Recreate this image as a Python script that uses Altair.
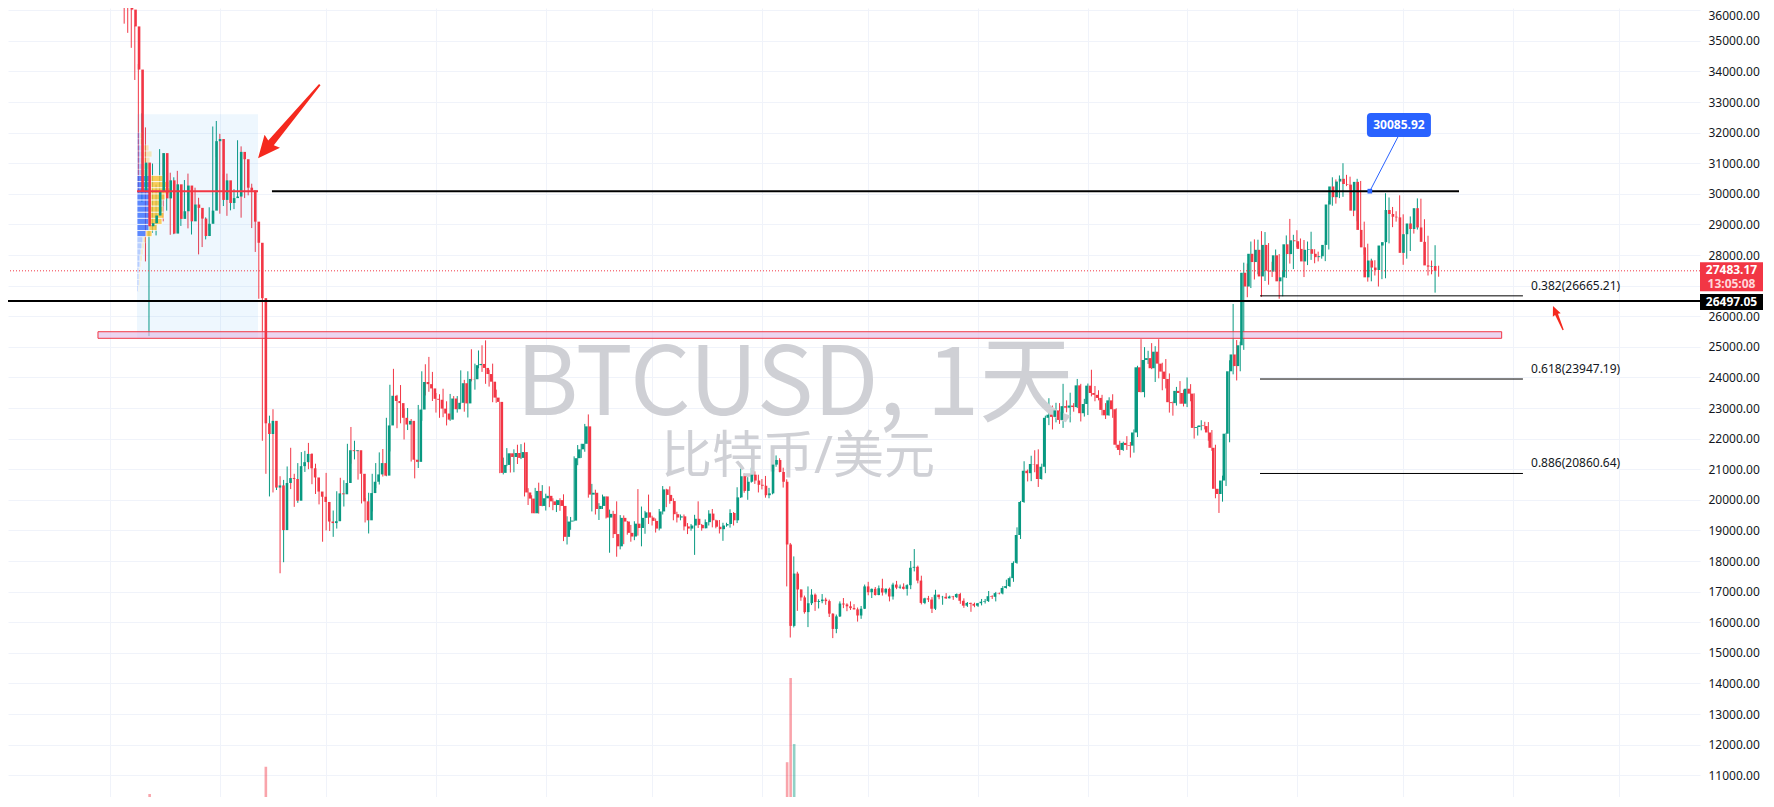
import altair as alt
import pandas as pd

# ---------------- daily BTCUSD candles ----------------
FIRST_DAY = "2022-05-05"
FIRST_OPEN = 39690
# (high, low, close) per day; open = previous close
m2022_05 = [(39850,35560,36550),(36680,35260,36020),(36140,34770,35470),(35500,33720,34060),(34240,30030,30080),
            (32630,29730,31020),(32170,27790,28940),(30060,25350,29040),(30990,28720,29290),(30300,28640,30090),
            (31460,29480,31330),(31330,29100,29850),(30780,29450,30440),(30690,28660,28700),(30540,28680,30310),
            (30750,28730,29180),(29620,28950,29430),(30450,29270,30270),(30660,28870,29100),(29810,28670,29650),
            (30200,29320,29540),(29870,28020,29190),(29380,28260,28620),(29230,28510,29020),(29560,28800,29450),
            (32200,29300,31720),(32380,31200,31790)]
m2022_06 = [(31960,29350,29800),(30650,29600,30440),(30660,29280,29700),(29930,29460,29860),(30150,29500,29910),
            (31750,29880,31370),(31550,29220,31130),(31300,29860,30200),(30660,29950,30110),(30330,28880,29090),
            (29440,28100,28400),(28540,26570,26590),(26880,21930,22500),(23000,20850,22150),(22750,20110,22580),
            (22960,20240,20400),(21350,20320,20470),(20770,17600,19010),(20650,17960,20550),(21090,19650,20710),
            (21700,20350,20680),(20850,19770,19970),(21200,19900,21100),(21560,20740,21230),(21600,20910,21500),
            (21860,21000,21030),(21520,20510,20730),(21180,20190,20270),(20420,19850,20100),(20150,18630,19930)]
m2022_07 = [(20880,19000,19290),(19390,18980,19240),(19650,18790,19300),(20280,19060,20210),(20720,19320,20180),
            (20640,19780,20550),(21830,20250,21620),(22380,21180,21590),(21930,21320,21620),(21600,20660,20850),
            (20860,19880,19950),(20060,19260,19330),(20230,18900,20220),(20850,19620,20590),(21200,20380,20830),
            (21550,20500,21200),(21660,20760,20790),(22680,20770,22430),(23760,21580,23400),(24280,22920,23230),
            (23430,22340,23160),(23750,22500,22680),(22990,21970,22460),(23000,22280,22580),(22640,21250,21310),
            (21340,20700,21240),(23100,21040,22950),(24200,22580,23850),(24430,23410,23780),(24670,23530,23640),
            (24180,23230,23300)]
m2022_08 = [(23490,22850,23270),(23450,22680,22980),(23630,22700,22820),(23220,22430,22620),(23460,22580,23310),
            (23390,22960,22960),(23390,22850,23170),(24230,23150,23810),(23920,22880,23150),(24200,22690,23950),
            (24920,23870,23940),(24450,23600,24400),(24880,24300,24440),(25050,24180,24310),(25210,23790,24110),
            (24250,23700,23860),(24450,23190,23340),(23600,23170,23200),(23200,20870,20880),(21380,20830,21140),
            (21690,21100,21520),(21520,20890,21400),(21650,20900,21530),(21800,21170,21370),(21820,21330,21560),
            (21870,20110,20240),(20380,19830,20040),(20150,19560,19560),(20390,19600,20290),(20560,19550,19800),
            (20480,19790,20050)]
m2022_09 = [(20200,19650,20130),(20440,19760,19950),(20050,19660,19830),(20000,19600,19990),(20050,19640,19800),
            (20180,18650,18790),(19460,18540,19290),(19440,19020,19320),(21420,19300,21360),(21790,21130,21650),
            (21830,21370,21830),(22480,21570,22400),(22790,20070,20170),(20520,19620,20230),(20330,19520,19700),
            (19890,19340,19800),(20170,19700,20110),(20110,19390,19420),(19680,18270,19540),(19640,18750,18880),
            (19950,18140,18480),(19500,18380,19410),(19490,18550,19290),(19310,18860,18920),(19180,18630,18800),
            (19300,18680,19220),(20350,18830,19080),(19780,18480,19410),(19640,18890,19590),(20170,19210,19420)]
m2022_10 = [(19480,19160,19310),(19390,18930,19060),(19700,19000,19620),(20450,19520,20340),(20360,19760,20160),
            (20440,19870,19960),(20050,19330,19530),(19610,19260,19420),(19520,19330,19460),(19520,19000,19130),
            (19240,18880,19060),(19210,18990,19160),(19510,18200,19380),(19950,19080,19180),(19210,18990,19070),
            (19360,19070,19270),(19660,19160,19550),(19700,19100,19330),(19350,19070,19120),(19340,18900,19040),
            (19250,18660,19160),(19250,19120,19210),(19690,19090,19570),(19600,19160,19330),(20410,19240,20080),
            (21020,20060,20770),(20860,20230,20290),(20740,20000,20590),(21050,20560,20820),(20930,20520,20630),
            (20820,20240,20490)]
m2022_11 = [(20680,20340,20460),(20780,20070,20150),(20390,20050,20210),(21300,20180,21150),(21450,21080,21300),
            (21360,20900,20910),(21050,20400,20590),(20670,17170,18540),(18590,15500,15880),(18150,15830,17590),
            (17650,16370,17070),(17070,16700,16810),(16870,16280,16330),(17170,15840,16620),(17080,16560,16900),
            (16940,16370,16660),(16750,16450,16690),(16920,16620,16740),(16800,16570,16690),(16740,16170,16280),
            (16290,15480,15780),(16250,15640,16190),(16680,16170,16610),(16790,16460,16580),(16620,16360,16520),
            (16680,16400,16460),(16590,16420,16420),(16480,16020,16220),(16530,16110,16440),(17230,16430,17170)]
m2022_12 = [(17320,16880,16980),(17100,16790,17090),(17150,16870,16890),(17200,16880,17110),(17420,16870,16970),
            (17110,16910,17090),(17130,16680,16840),(17290,16740,17230),(17350,17080,17130),(17230,17090,17160),
            (17270,17070,17090),(17240,16870,17210),(18000,17080,17780),(18390,17660,17810),(17850,17270,17360),
            (17520,16580,16630),(16800,16590,16780),(16860,16660,16740),(16820,16300,16440),(17060,16400,16900),
            (16900,16750,16820),(16860,16570,16830),(16950,16760,16780),(16870,16780,16840),(16860,16730,16820),
            (16940,16790,16920),(16960,16600,16700),(16780,16470,16540),(16660,16500,16630),(16640,16340,16600),
            (16640,16490,16540)]
m2023_01 = [(16630,16500,16620),(16760,16550,16670),(16760,16610,16690),(17020,16660,16850),(16880,16760,16830),
            (16990,16680,16950),(16970,16910,16940),(17180,16910,17120),(17390,17100,17180),(17490,17150,17440),
            (17990,17320,17940),(19100,17910,18850),(19960,18720,19930),(21260,19900,20950),(20990,20600,20870),
            (21440,20610,21170),(21620,20900,21160),(21650,20420,20680),(21180,20660,21080),(22750,20870,22680),
            (23320,22440,22780),(23080,22300,22710),(23170,22530,22920),(23160,22480,22610),(23790,22350,23060),
            (23250,22860,23010),(23500,22530,23080),(23160,22880,23030),(23950,23000,23740),(23790,22560,22830),
            (23300,22720,23130)]
m2023_02 = [(23800,22770,23730),(24250,23380,23490),(23720,23220,23430),(23580,23250,23330),(23430,22760,22940),
            (23160,22640,22760),(23350,22750,23250),(23450,22680,22960),(22990,21700,21800),(21930,21460,21630),
            (21900,21600,21860),(22080,21630,21790),(21890,21380,21770),(22300,21540,22200),(24380,22050,24330),
            (25250,23510,23520),(24990,23350,24570),(24870,24440,24630),(25120,24270,24300),(25020,23850,24840),
            (25250,23970,24450),(24480,23580,24190),(24600,23640,23950),(24130,22850,23190),(23210,22750,23160),
            (23690,23080,23560),(23880,23140,23490),(23600,23050,23140)]
m2023_03 = [(24000,23030,23630),(23780,23220,23470),(23480,22000,22350),(22420,22100,22380),(22600,22270,22430),
            (22550,22300,22410),(22540,21930,22200),(22280,21600,21700),(21800,20050,20360),(20360,19570,20190),
            (20790,19940,20630),(22190,20450,22160),(24560,21880,24200),(26400,24100,24750),(25220,23900,24370),
            (25170,24200,25050),(27750,24900,27420),(27720,26620,26970),(28440,26920,28040),(28510,27200,27770),
            (28500,27370,28170),(28780,26630,27300),(28750,27150,28330),(28390,27030,27490),(27780,27280,27460),
            (28180,27450,27990),(28030,26570,27140),(27500,26650,27270),(28640,27250,28350),(29180,27720,28030),
            (28660,27540,28480)]
m2023_04 = [(28810,28250,28450),(28540,27870,28200),(28490,27280,27790),(28440,27670,28170),(28760,27840,28190),
            (28190,27730,28040),(28110,27790,27930),(28170,27880,27960),(28470,27800,28330),(29770,28180,29650),
            (30540,29610,30240),(30470,29680,29890),(30600,29860,30400),(31000,29900,30490),(30620,30250,30320),
            (30560,30140,30300),(30330,29270,29450),(30490,29100,30390),(30420,28600,28820),(29090,28010,28250),
            (28370,27130,27270),(27880,27140,27820),(27830,27330,27590),(28000,26970,27510),(28400,27210,28310),
            (30020,27240,28420),(29880,28380,29470),(29570,28910,29340),(29430,29090,29250),(29950,29110,29230)]
m2023_05 = [(29330,27680,28070),(28890,27880,28680),(29260,28130,29030),(29370,28700,28850),(29850,28830,29530),
            (29840,28820,28900),(29170,28380,28430),(28630,27330,27660),(27820,27370,27620),(28320,26770,27640),
            (27650,27290,27483.17)]
months = [m2022_05, m2022_06, m2022_07, m2022_08, m2022_09, m2022_10, m2022_11, m2022_12,
          m2023_01, m2023_02, m2023_03, m2023_04, m2023_05]

# volume spikes that reach into the visible area (thousand BTC)
vol_day = ["2022-05-11", "2022-06-13", "2022-11-08", "2022-11-09", "2022-11-10"]
vol_k = [22.0, 27.4, 28.3, 45.0, 31.9]

# fixed-range volume profile (May 8 - Jun 11 2022): 200 $ buckets
vp_bucket = list(range(26800, 32000, 200))
vp_up = [1.5, 2, 2, 2, 3, 3, 4, 5, 6, 9, 12, 12, 13, 13, 14, 14, 14, 14, 14, 5, 5, 4, 4, 4, 3, 3]
vp_dn = [1, 1, 1, 1, 1, 2, 2, 2, 3, 6, 8, 13, 14, 13, 11, 14, 19, 18, 12, 6, 7, 9, 11, 8, 4, 2]
vp_value_area = (28600, 30400)
vp_poc = 30085.92

# drawings
LEVEL_TOP = 30085.92
LEVEL_SUPPORT = 26497.05
LAST_PRICE = 27483.17
COUNTDOWN = "13:05:08"
fib_ratio = ["0.382", "0.618", "0.886"]
fib_price = [26665.21, 23947.19, 20860.64]
zone_lo, zone_hi = 25278, 25493
range_top = 32598

GREEN = "#089981"
RED = "#f23645"
FONT = '"Noto Sans", "Noto Sans CJK SC", sans-serif'
WM_FONT = '"Noto Sans CJK SC", sans-serif'

W, H = 1692, 789
Y_LO, Y_HI = 10288, 36072


def ms(s):
    return int(pd.Timestamp(s, tz="UTC").value // 10**6)


# ---------------- tables ----------------
rows = [r for m in months for r in m]
dates = pd.date_range(FIRST_DAY, periods=len(rows), freq="D", tz="UTC")
o_, h_, l_, c_ = [], [], [], []
prev = FIRST_OPEN
for (hh, ll, cc) in rows:
    o_.append(prev)
    c_.append(cc)
    h_.append(max(hh, prev, cc))
    l_.append(min(ll, prev, cc))
    prev = cc
candles = pd.DataFrame({"t": dates.asi8 // 10**6, "o": o_, "h": h_, "l": l_, "c": c_})
candles["dir"] = ["up" if c >= o else "down" for o, c in zip(o_, c_)]
dir_by_day = dict(zip(dates.strftime("%Y-%m-%d"), candles["dir"]))

vol = pd.DataFrame({"t": [ms(d) for d in vol_day], "v": vol_k,
                    "dir": [dir_by_day[d] for d in vol_day]})

vp_rows = []
for b, u, d in zip(vp_bucket, vp_up, vp_dn):
    strong = vp_value_area[0] <= b <= vp_value_area[1]
    vp_rows.append({"lo": b, "hi": b + 200, "x0": 0, "x1": u, "fill": "#2962ff",
                    "op": 0.75 if strong else 0.28})
    vp_rows.append({"lo": b, "hi": b + 200, "x0": u, "x1": u + d, "fill": "#fbc02d",
                    "op": 0.78 if strong else 0.32})
vp = pd.DataFrame(vp_rows)

XS = alt.Scale(type="utc", domain=[ms("2022-04-02T05:00"), ms("2023-07-23T18:30")], nice=False)
YS = alt.Scale(domain=[Y_LO, Y_HI], nice=False, zero=False)


def X(f):
    return alt.X(f, type="temporal", scale=XS, axis=None)


def Y(f):
    return alt.Y(f, type="quantitative", scale=YS, axis=None)


month_starts = [int(v // 10**6) for v in pd.date_range("2022-04-01", "2023-07-01", freq="MS", tz="UTC").asi8]
col = alt.Color("dir:N", scale=alt.Scale(domain=["up", "down"], range=[GREEN, RED]), legend=None)

# ---------------- layers ----------------
watermark1 = alt.Chart(pd.DataFrame({"s": ["BTCUSD, 1天"]})).mark_text(
    font=WM_FONT, fontSize=95, color="#cfd0d5", align="center", baseline="alphabetic"
).encode(x=alt.value(787), y=alt.value(407), text="s:N")
watermark2 = alt.Chart(pd.DataFrame({"s": ["比特币/美元"]})).mark_text(
    font=FONT, fontSize=51, color="#cfd0d5", align="center", baseline="alphabetic"
).encode(x=alt.value(790), y=alt.value(465), text="s:N")

range_box = alt.Chart(pd.DataFrame({"a": [ms("2022-05-08T15:00")], "b": [ms("2022-06-11T18:30")],
                                    "lo": [zone_lo], "hi": [range_top]})).mark_rect(
    color="#2196f3", opacity=0.08).encode(x=X("a"), x2="b", y=Y("lo"), y2="hi")

zone = alt.Chart(pd.DataFrame({"a": [ms("2022-04-27T14:30")], "b": [ms("2023-05-28T19:00")],
                               "lo": [zone_lo], "hi": [zone_hi]})).mark_rect(
    fill="#e1bee7", fillOpacity=0.65, stroke="#f23645", strokeWidth=1).encode(
    x=X("a"), x2="b", y=Y("lo"), y2="hi")

volume = alt.Chart(vol).mark_bar(size=2.6, opacity=0.45, clip=True).encode(
    x=X("t"),
    y=alt.Y("v:Q", scale=alt.Scale(domain=[21.4, 177.9], nice=False, zero=False), axis=None),
    y2=alt.datum(0),
    color=col)

profile = alt.Chart(vp).mark_rect(stroke="white", strokeWidth=0.8).encode(
    x=alt.X("x0:Q", scale=alt.Scale(domain=[-129, W - 129], nice=False, zero=False), axis=None),
    x2="x1",
    y=Y("lo"), y2="hi",
    fill=alt.Fill("fill:N", scale=None),
    opacity=alt.Opacity("op:Q", scale=None))

wicks = alt.Chart(candles).mark_rule(strokeWidth=1, clip=True).encode(
    x=alt.X("t:T", scale=XS,
            axis=alt.Axis(values=month_starts, labels=False, ticks=False, domain=False,
                          grid=True, gridColor="#f0f3fa", gridWidth=1, title=None)),
    y=alt.Y("l:Q", scale=YS,
            axis=alt.Axis(orient="right", values=list(range(11000, 37000, 1000)), format=".2f",
                          labelFont=FONT, labelFontSize=12, labelColor="#131722",
                          ticks=False, domain=False, grid=True, gridColor="#f0f3fa",
                          labelPadding=8, labelFlush=5, title=None)),
    y2="h",
    color=col)

bodies = alt.Chart(candles).mark_bar(size=2.6, clip=True).encode(
    x=X("t"), y=Y("o"), y2="c", color=col)

last_line = alt.Chart(pd.DataFrame({"p": [LAST_PRICE]})).mark_rule(
    color=RED, strokeWidth=1, strokeDash=[1, 2]).encode(y=Y("p"))
support_line = alt.Chart(pd.DataFrame({"p": [LEVEL_SUPPORT]})).mark_rule(
    color="#000000", strokeWidth=2).encode(y=Y("p"))
top_line = alt.Chart(pd.DataFrame({"a": [ms("2022-06-15T17:00")], "b": [ms("2023-05-16T18:00")],
                                   "p": [LEVEL_TOP]})).mark_rule(
    color="#000000", strokeWidth=2).encode(x=X("a"), x2="b", y=Y("p"))
poc_line = alt.Chart(pd.DataFrame({"a": [ms("2022-05-08T15:00")], "b": [ms("2022-06-11T18:30")],
                                   "p": [vp_poc]})).mark_rule(
    color="#f23645", strokeWidth=2).encode(x=X("a"), x2="b", y=Y("p"))

fib = pd.DataFrame({"a": ms("2023-03-21T14:00"), "b": ms("2023-06-03T19:00"),
                    "tl": ms("2023-06-06T02:00"), "p": fib_price,
                    "label": [f"{r}({p:.2f})" for r, p in zip(fib_ratio, fib_price)]})
fib_lines = alt.Chart(fib).mark_rule(color="#000000", strokeWidth=1).encode(
    x=X("a"), x2="b", y=Y("p"))
fib_text = alt.Chart(fib).mark_text(font=FONT, fontSize=12, color="#131722", align="left",
                                    baseline="bottom", dy=-3).encode(
    x=X("tl"), y=Y("p"), text="label:N")

# callout 30085.92
ROUND = ("M-0.875,-0.375L0.875,-0.375Q1,-0.375 1,-0.25L1,0.25Q1,0.375 0.875,0.375"
         "L-0.875,0.375Q-1,0.375 -1,0.25L-1,-0.25Q-1,-0.375 -0.875,-0.375Z")
leader = alt.Chart(pd.DataFrame({"a": [ms("2023-04-29T12:00")], "pa": [31856],
                                 "b": [ms("2023-04-21T14:00")], "pb": [LEVEL_TOP]})).mark_rule(
    color="#2962ff", strokeWidth=1).encode(x=X("a"), x2="b", y=Y("pa"), y2="pb")
leader_dot = alt.Chart(pd.DataFrame({"b": [ms("2023-04-21T14:00")], "pb": [LEVEL_TOP]})).mark_point(
    shape="square", filled=True, size=22, color="#2962ff", opacity=1).encode(x=X("b"), y=Y("pb"))
callout_df = pd.DataFrame({"t": [ms("2023-04-29T19:00")], "p": [32248],
                           "s": [f"{LEVEL_TOP:.2f}"]})
callout_box = alt.Chart(callout_df).mark_point(
    shape=ROUND, filled=True, size=4096, color="#2962ff", opacity=1).encode(x=X("t"), y=Y("p"))
callout_txt = alt.Chart(callout_df).mark_text(
    font=FONT, fontSize=12, fontWeight="bold", color="white", baseline="middle").encode(
    x=X("t"), y=Y("p"), text="s:N")

# arrows
ARROW_BIG = "M-1,-0.02L0.58,-0.075L0.54,-0.21L1,0L0.54,0.21L0.58,0.075L-1,0.02Z"
ARROW_SMALL = "M-1,-0.05L0.3,-0.12L0.25,-0.33L1,0L0.25,0.33L0.3,0.12L-1,0.05Z"
arrow1 = alt.Chart(pd.DataFrame({"t": [ms("2022-06-20T12:00")], "p": [32363]})).mark_point(
    shape=ARROW_BIG, filled=True, size=9216, angle=130, color="#f5291e", opacity=1).encode(
    x=X("t"), y=Y("p"))
arrow2 = alt.Chart(pd.DataFrame({"t": [ms("2023-06-13T17:00")], "p": [25941]})).mark_point(
    shape=ARROW_SMALL, filled=True, size=676, angle=247, color="#f5291e", opacity=1).encode(
    x=X("t"), y=Y("p"))

# price-scale labels
AX_X = W + 31.5
RECT_TALL = "M-1,-0.46L1,-0.46L1,0.46L-1,0.46Z"
RECT_LOW = "M-1,-0.254L1,-0.254L1,0.254L-1,0.254Z"
lp = pd.DataFrame({"p": [LAST_PRICE], "s": [f"{LAST_PRICE:.2f}"], "cd": [COUNTDOWN]})
sp = pd.DataFrame({"p": [LEVEL_SUPPORT], "s": [f"{LEVEL_SUPPORT:.2f}"]})
last_box = alt.Chart(lp).mark_point(shape=RECT_TALL, filled=True, size=3969, color=RED,
                                    opacity=1, yOffset=6).encode(x=alt.value(AX_X), y=Y("p"))
last_txt = alt.Chart(lp).mark_text(font=FONT, fontSize=12, fontWeight="bold", color="white",
                                   baseline="middle", dy=-1).encode(
    x=alt.value(AX_X), y=Y("p"), text="s:N")
cd_txt = alt.Chart(lp).mark_text(font=FONT, fontSize=12, fontWeight="bold", color="#ffd6da",
                                 baseline="middle", dy=13).encode(
    x=alt.value(AX_X), y=Y("p"), text="cd:N")
sup_box = alt.Chart(sp).mark_point(shape=RECT_LOW, filled=True, size=3969, color="#000000",
                                   opacity=1, yOffset=1).encode(x=alt.value(AX_X), y=Y("p"))
sup_txt = alt.Chart(sp).mark_text(font=FONT, fontSize=12, fontWeight="bold", color="white",
                                  baseline="middle", dy=1).encode(
    x=alt.value(AX_X), y=Y("p"), text="s:N")

chart = alt.layer(
    wicks, watermark1, watermark2, range_box, zone, volume, profile, bodies,
    last_line, support_line, top_line, poc_line, fib_lines, fib_text,
    leader, leader_dot, callout_box, callout_txt, arrow1, arrow2,
    last_box, last_txt, cd_txt, sup_box, sup_txt,
).resolve_scale(x="independent", y="independent").properties(
    width=W, height=H, background="white",
    autosize=alt.AutoSizeParams(type="none"),
    padding={"left": 0, "top": 0, "right": 64, "bottom": 0},
).configure_view(strokeWidth=0)

chart.save("out.html", embed_options={"renderer": "svg", "actions": False})
